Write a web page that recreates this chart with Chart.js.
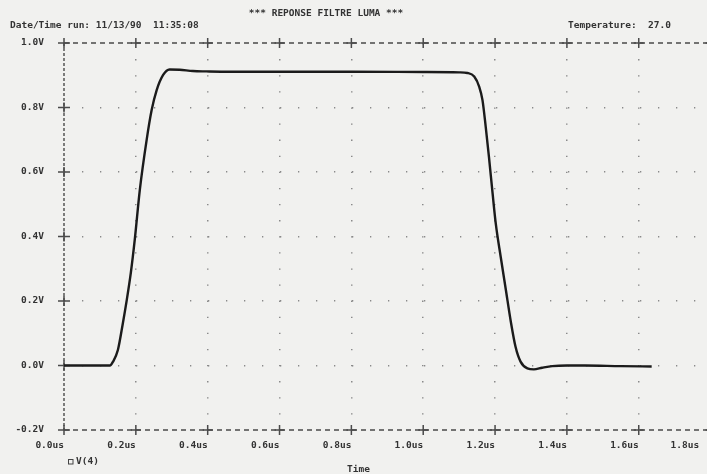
<!DOCTYPE html>
<html>
<head>
<meta charset="utf-8">
<script src="https://cdn.jsdelivr.net/npm/chart.js@4/dist/chart.umd.min.js"></script>
<style>
  body { margin: 0; background: #f1f1ef; }
  canvas { display: block; }
</style>
</head>
<body>
<canvas id="spiceChart" width="707" height="474"></canvas>
<script>
// Transient analysis - V(4), time in us, volts
var timeUs = [0, 0.128, 0.136, 0.150, 0.164, 0.174, 0.186, 0.197, 0.211, 0.230, 0.244, 0.258, 0.276, 0.294,
    0.322, 0.359, 0.396, 0.461, 0.6, 0.8, 1.0, 1.1, 1.123, 1.142, 1.156, 1.165, 1.174, 1.183, 1.193, 1.202,
    1.216, 1.230, 1.244, 1.257, 1.271, 1.290, 1.308, 1.331, 1.359, 1.40, 1.45, 1.55, 1.636];
var vOut = [0, 0, 0.011, 0.048, 0.132, 0.198, 0.287, 0.39, 0.544, 0.699, 0.792, 0.854, 0.901, 0.918,
    0.917, 0.913, 0.912, 0.911, 0.911, 0.911, 0.910, 0.909, 0.907, 0.896, 0.864, 0.823, 0.740, 0.647, 0.535, 0.44,
    0.335, 0.235, 0.135, 0.058, 0.012, -0.009, -0.012, -0.007, -0.002, 0.0, 0.0, -0.002, -0.003];

var xTickValues = [0, 0.2, 0.4, 0.6, 0.8, 1.0, 1.2, 1.4, 1.6, 1.8];
var yTickValues = [-0.2, 0, 0.2, 0.4, 0.6, 0.8, 1.0];

var seriesName = 'V(4)';
var plotTitle = '*** REPONSE FILTRE LUMA ***';
var runLine = 'Date/Time run: 11/13/90  11:35:08';
var tempLine = 'Temperature:  27.0';
var xAxisName = 'Time';

var MONO = '"DejaVu Sans Mono", "Liberation Mono", monospace';
var INK = '#333333';

var points = timeUs.map(function(t, i) {
    return { x: t, y: vOut[i] };
});

//dotted grid, hidden on the frame itself
function gridColor(ctx, count) {
    if (ctx.index === 0 || ctx.index === count - 1) return 'transparent';
    return '#8a8a8a';
}

var plotFrame = {
    id: 'plotFrame',
    beforeDraw: function(chart) {
        var ctx = chart.ctx;
        ctx.save();
        ctx.fillStyle = '#f1f1ef';
        ctx.fillRect(0, 0, chart.width, chart.height);
        ctx.restore();
    },
    beforeDatasetsDraw: function(chart) {
        var ctx = chart.ctx;
        var a = chart.chartArea;
        var xs = chart.scales.x;
        var ys = chart.scales.y;

        ctx.save();
        ctx.strokeStyle = '#4a4a4a';
        ctx.lineWidth = 1.4;

        //dashed frame
        ctx.setLineDash([5, 4]);
        ctx.beginPath();
        ctx.moveTo(a.left, a.top);
        ctx.lineTo(a.right, a.top);
        ctx.moveTo(a.left, a.bottom);
        ctx.lineTo(a.right, a.bottom);
        ctx.stroke();

        ctx.setLineDash([3, 2]);
        ctx.beginPath();
        ctx.moveTo(a.left, a.top);
        ctx.lineTo(a.left, a.bottom);
        ctx.stroke();

        // "+" marks on the frame
        ctx.setLineDash([]);
        ctx.lineWidth = 1.5;
        ctx.beginPath();
        xTickValues.forEach(function(v) {
            var px = xs.getPixelForValue(v);
            [a.top, a.bottom].forEach(function(py) {
                ctx.moveTo(px - 5, py);
                ctx.lineTo(px + 5, py);
                ctx.moveTo(px, py - 5);
                ctx.lineTo(px, py + 5);
            });
        });
        yTickValues.forEach(function(v) {
            var py = ys.getPixelForValue(v);
            ctx.moveTo(a.left - 6, py);
            ctx.lineTo(a.left + 6, py);
            ctx.moveTo(a.left, py - 5);
            ctx.lineTo(a.left, py + 5);
        });
        ctx.stroke();
        ctx.restore();
    },
    afterDraw: function(chart) {
        var ctx = chart.ctx;
        ctx.save();
        ctx.fillStyle = INK;
        ctx.font = 'bold 9.5px ' + MONO;
        ctx.textBaseline = 'middle';

        ctx.textAlign = 'center';
        ctx.fillText(plotTitle, 326, 14);

        ctx.textAlign = 'left';
        ctx.fillText(runLine, 10, 26);
        ctx.fillText(tempLine, 568, 26);
        ctx.fillText(xAxisName, 347, 470);

        //legend
        ctx.strokeStyle = '#444';
        ctx.lineWidth = 1;
        ctx.strokeRect(68.5, 459.5, 4.5, 4.5);
        ctx.fillText(seriesName, 76, 462);
        ctx.restore();
    }
};

var chart = new Chart(document.getElementById('spiceChart'), {
    type: 'line',
    data: {
        datasets: [{
            label: seriesName,
            data: points,
            borderColor: '#1b1b1b',
            borderWidth: 2.4,
            pointRadius: 0,
            cubicInterpolationMode: 'monotone',
            fill: false
        }]
    },
    options: {
        responsive: false,
        animation: false,
        devicePixelRatio: 1,
        layout: {
            padding: { top: 43, right: 0, left: 0, bottom: 0 }
        },
        plugins: {
            legend: { display: false },
            title: { display: false },
            tooltip: { enabled: false }
        },
        scales: {
            x: {
                type: 'linear',
                min: 0,
                max: 1.79, // plot is cut by the page edge just before 1.8us
                afterBuildTicks: function(scale) {
                    scale.ticks = xTickValues.map(function(v) { return { value: v }; });
                },
                afterFit: function(scale) {
                    scale.height = 44;
                    scale.paddingRight = 0;
                },
                grid: {
                    color: function(ctx) { return gridColor(ctx, xTickValues.length); },
                    lineWidth: 1.5,
                    drawTicks: true,
                    tickLength: 10,
                    tickColor: 'transparent'
                },
                border: { display: false, dash: [1.3, 14.8] },
                ticks: {
                    autoSkip: false,
                    maxRotation: 0,
                    align: 'end',
                    padding: 0,
                    color: INK,
                    font: { family: MONO, size: 9.5, weight: 'bold' },
                    callback: function(value, index) {
                        var label = value.toFixed(1) + 'us';
                        //last label pulled in from the page edge
                        if (index === xTickValues.length - 1) label += '  ';
                        return label;
                    }
                }
            },
            y: {
                min: -0.2,
                max: 1.0,
                afterBuildTicks: function(scale) {
                    scale.ticks = yTickValues.map(function(v) { return { value: v }; });
                },
                afterFit: function(scale) {
                    scale.width = 64;
                },
                grid: {
                    color: function(ctx) { return gridColor(ctx, yTickValues.length); },
                    lineWidth: 1.5,
                    drawTicks: false
                },
                border: { display: false, dash: [1.3, 16.7] },
                ticks: {
                    padding: 20,
                    color: INK,
                    font: { family: MONO, size: 9.5, weight: 'bold' },
                    callback: function(value) {
                        return value.toFixed(1) + 'V';
                    }
                }
            }
        }
    },
    plugins: [plotFrame]
});
</script>
</body>
</html>
